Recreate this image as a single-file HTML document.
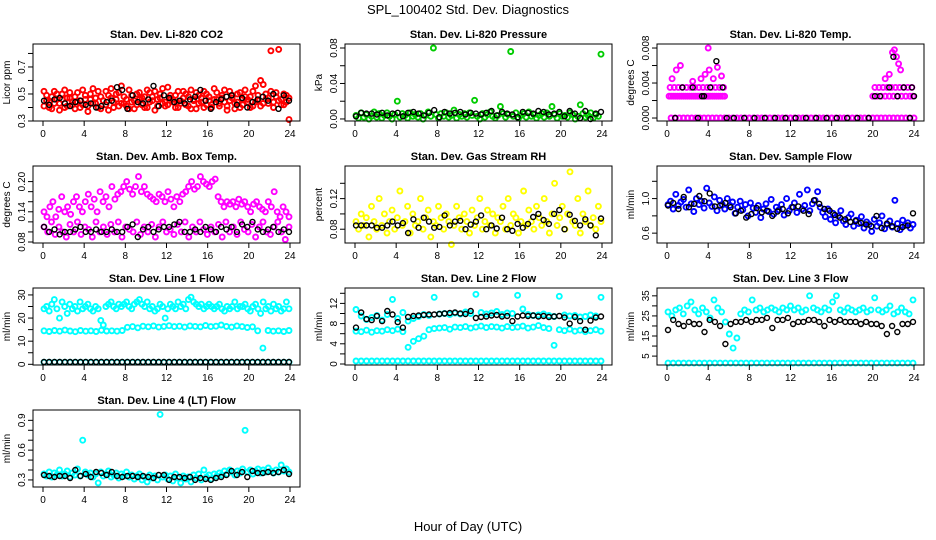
<!DOCTYPE html>
<html><head><meta charset="utf-8"><style>
body{margin:0;background:#fff;}
svg{display:block;font-family:"Liberation Sans",sans-serif;}
</style></head><body>
<svg id="chart" width="936" height="540" viewBox="0 0 936 540" xmlns="http://www.w3.org/2000/svg">
<text x="468" y="14" font-size="13" text-anchor="middle">SPL_100402  Std. Dev. Diagnostics</text>
<text x="468" y="531" font-size="13" text-anchor="middle">Hour of Day (UTC)</text>
</svg>
<script>
const xTicks=[0,4,8,12,16,20,24];
const co2Red=[0.52,0.45,0.40,0.48,0.43,0.50,0.38,0.46,0.53,0.41,0.47,0.44,0.39,0.51,0.45,0.42,0.49,0.37,0.46,0.54,0.43,0.40,0.48,0.45,0.52,0.38,0.47,0.44,0.50,0.41,0.56,0.43,0.46,0.39,0.49,0.45,0.42,0.51,0.47,0.40,0.53,0.44,0.48,0.38,0.46,0.50,0.43,0.41,0.55,0.47,0.44,0.49,0.40,0.45,0.52,0.42,0.48,0.39,0.46,0.51,0.43,0.47,0.40,0.50,0.45,0.42,0.54,0.46,0.41,0.49,0.44,0.38,0.52,0.47,0.43,0.50,0.40,0.46,0.53,0.44,0.48,0.41,0.56,0.45,0.60,0.43,0.50,0.47,0.82,0.44,0.51,0.83,0.46,0.42,0.49,0.31];
const co2Red2=[0.41,0.49,0.44,0.39,0.52,0.46,0.43,0.50,0.40,0.47,0.51,0.42,0.48,0.44,0.40,0.53,0.46,0.41,0.50,0.43,0.47,0.52,0.39,0.45,0.42,0.49,0.54,0.40,0.46,0.51,0.43,0.48,0.41,0.53,0.44,0.39,0.50,0.46,0.42,0.48,0.40,0.51,0.45,0.52,0.41,0.47,0.54,0.44,0.42,0.49,0.46,0.40,0.52,0.43,0.47,0.50,0.41,0.53,0.45,0.39,0.49,0.44,0.52,0.42,0.48,0.40,0.46,0.51,0.43,0.47,0.53,0.41,0.45,0.49,0.39,0.44,0.51,0.42,0.48,0.46,0.40,0.52,0.44,0.49,0.41,0.57,0.46,0.43,0.52,0.40,0.48,0.45,0.42,0.50,0.44,0.47];
const co2Black=[0.45,0.42,0.46,0.47,0.43,0.41,0.44,0.45,0.42,0.43,0.40,0.41,0.44,0.45,0.55,0.53,0.39,0.49,0.44,0.43,0.46,0.56,0.41,0.49,0.47,0.44,0.45,0.43,0.46,0.48,0.53,0.45,0.39,0.44,0.46,0.48,0.49,0.42,0.47,0.40,0.44,0.46,0.48,0.45,0.50,0.39,0.49,0.45];
const presGreen=[0.004,0.001,0.007,0.002,0.005,0.000,0.003,0.008,0.002,0.006,0.001,0.004,0.007,0.003,0.000,0.005,0.020,0.002,0.006,0.004,0.001,0.007,0.003,0.005,0.002,0.006,0.000,0.004,0.008,0.003,0.080,0.005,0.001,0.006,0.003,0.007,0.002,0.004,0.010,0.001,0.005,0.003,0.006,0.002,0.007,0.004,0.021,0.003,0.000,0.006,0.002,0.005,0.008,0.003,0.001,0.004,0.014,0.006,0.002,0.005,0.076,0.003,0.007,0.001,0.004,0.006,0.002,0.008,0.003,0.005,0.001,0.004,0.006,0.002,0.007,0.003,0.014,0.005,0.001,0.006,0.003,0.004,0.002,0.007,0.005,0.000,0.003,0.016,0.006,0.002,0.004,0.007,0.001,0.005,0.003,0.073];
const presBlack=[0.003,0.007,0.006,0.006,0.005,0.007,0.004,0.006,0.007,0.003,0.007,0.008,0.006,0.004,0.007,0.010,0.002,0.008,0.006,0.007,0.008,0.005,0.007,0.006,0.005,0.007,0.009,0.004,0.008,0.006,0.005,0.002,0.008,0.007,0.006,0.009,0.008,0.005,0.006,0.008,0.003,0.009,0.006,0.001,0.009,0.000,0.006,0.008];
const tempZeroX=[0.4,0.8,1.2,1.6,2.0,2.4,2.8,3.2,3.6,4.0,4.4,4.8,5.2,5.6,6.0,6.4,6.8,7.2,7.6,8.0,8.4,8.8,9.2,9.6,10.0,10.4,10.8,11.2,11.6,12.0,12.4,12.8,13.2,13.6,14.0,14.4,14.8,15.2,15.6,16.0,16.4,16.8,17.2,17.6,18.0,18.4,18.8,19.2,19.6,20.0,20.4,20.8,21.2,21.6,22.0,22.4,22.8,23.2,23.6,24.0];
const tempZeroY=[0,0,0,0,0,0,0,0,0,0,0,0,0,0,0,0,0,0,0,0,0,0,0,0,0,0,0,0,0,0,0,0,0,0,0,0,0,0,0,0,0,0,0,0,0,0,0,0,0,0,0,0,0,0,0,0,0,0,0,0];
const tempMagX=[0.2,0.4,0.6,0.8,1.0,1.2,1.4,1.6,1.8,2.0,2.2,2.4,2.6,2.8,3.0,3.2,3.4,3.6,3.8,4.0,4.2,4.4,4.6,4.8,5.0,5.2,5.4,5.6,0.3,0.7,1.1,1.5,1.9,2.3,2.7,3.1,3.5,3.9,4.3,4.7,5.1,5.5,0.5,0.9,1.3,2.5,3.3,3.7,4.1,4.5,4.9,5.3,4.0,20.0,20.4,20.8,21.2,21.6,22.0,22.4,22.8,23.2,23.6,23.9,20.2,20.6,21.0,21.4,21.8,22.2,22.6,23.0,23.4,23.8,21.2,21.6,21.9,22.1,22.3,22.5,22.7];
const tempMagY=[0.0025,0.0025,0.0025,0.0025,0.0025,0.0025,0.0025,0.0025,0.0025,0.0025,0.0025,0.0025,0.0025,0.0025,0.0025,0.0025,0.0025,0.0025,0.0025,0.0025,0.0025,0.0025,0.0025,0.0025,0.0025,0.0025,0.0025,0.0025,0.0035,0.0035,0.0035,0.0035,0.0035,0.0035,0.0035,0.0035,0.0035,0.0035,0.0035,0.0035,0.0035,0.0035,0.0045,0.0055,0.006,0.0042,0.0045,0.005,0.0055,0.0045,0.0058,0.0048,0.008,0.0025,0.0025,0.0025,0.0025,0.0025,0.0025,0.0025,0.0025,0.0025,0.0025,0.0025,0.0035,0.0035,0.0035,0.0035,0.0035,0.0035,0.0035,0.0035,0.0035,0.0035,0.0045,0.005,0.0075,0.0078,0.007,0.0062,0.0055];
const tempBlackX=[0.8,1.5,2.5,3.0,3.4,3.6,4.2,4.8,5.4,5.8,6.5,7.5,8.5,9.5,10.5,11.5,12.5,13.5,14.5,15.5,16.5,17.5,18.5,19.6,20.2,20.7,21.6,22.4,22.0,23.0,23.8,24.0,23.6];
const tempBlackY=[0,0.0035,0.0035,0,0.0025,0.0025,0.0035,0.0065,0.0035,0,0,0,0,0,0,0,0,0,0,0,0,0,0,0,0.0025,0.0025,0.0035,0.0025,0.007,0.0035,0.0035,0.0025,0];
const ambMagLow=[0.11,0.10,0.12,0.095,0.11,0.10,0.09,0.115,0.10,0.12,0.095,0.11,0.105,0.09,0.12,0.10,0.11,0.095,0.115,0.10,0.12,0.09,0.11,0.105,0.10,0.12,0.095,0.11,0.10,0.115,0.09,0.11,0.12,0.10,0.105,0.095,0.115,0.10,0.12,0.09,0.11,0.10,0.12,0.105,0.095,0.11,0.10,0.115,0.09,0.12,0.10,0.11,0.095,0.12,0.105,0.10,0.115,0.09,0.11,0.12,0.10,0.095,0.11,0.12,0.10,0.085,0.11];
const ambMagHigh=[0.14,0.13,0.15,0.16,0.13,0.145,0.17,0.14,0.15,0.135,0.16,0.17,0.15,0.14,0.16,0.175,0.15,0.165,0.14,0.18,0.16,0.17,0.15,0.19,0.165,0.175,0.18,0.19,0.2,0.185,0.175,0.19,0.21,0.18,0.19,0.175,0.17,0.165,0.16,0.175,0.17,0.16,0.18,0.165,0.15,0.17,0.16,0.175,0.18,0.19,0.2,0.185,0.19,0.21,0.2,0.195,0.19,0.2,0.205,0.17,0.16,0.15,0.16,0.155,0.16,0.15,0.165,0.155,0.16,0.15,0.14,0.155,0.16,0.15,0.145,0.14,0.16,0.15,0.18,0.14,0.13,0.15,0.14,0.13];
const ambBlack=[0.11,0.10,0.105,0.095,0.10,0.10,0.105,0.11,0.10,0.10,0.105,0.10,0.10,0.105,0.10,0.10,0.11,0.115,0.09,0.105,0.11,0.10,0.105,0.11,0.11,0.115,0.12,0.10,0.10,0.105,0.10,0.11,0.105,0.10,0.11,0.105,0.11,0.10,0.115,0.11,0.12,0.105,0.10,0.105,0.11,0.10,0.105,0.10];
const rhYellow=[0.09,0.08,0.10,0.085,0.095,0.07,0.11,0.09,0.08,0.12,0.085,0.10,0.075,0.09,0.105,0.08,0.095,0.13,0.085,0.09,0.11,0.075,0.10,0.085,0.09,0.12,0.08,0.095,0.105,0.07,0.09,0.085,0.11,0.095,0.08,0.10,0.09,0.06,0.085,0.11,0.095,0.08,0.10,0.09,0.075,0.105,0.085,0.095,0.12,0.08,0.09,0.105,0.085,0.10,0.075,0.095,0.09,0.11,0.08,0.12,0.085,0.10,0.095,0.075,0.09,0.13,0.085,0.105,0.09,0.08,0.11,0.095,0.085,0.12,0.09,0.075,0.10,0.14,0.085,0.095,0.11,0.08,0.10,0.155,0.09,0.085,0.12,0.075,0.10,0.09,0.13,0.085,0.095,0.08,0.11,0.09];
const rhBlack=[0.085,0.085,0.085,0.085,0.082,0.082,0.085,0.09,0.085,0.088,0.075,0.093,0.082,0.095,0.09,0.082,0.083,0.098,0.085,0.09,0.091,0.08,0.086,0.09,0.098,0.08,0.085,0.081,0.095,0.08,0.078,0.087,0.082,0.087,0.096,0.1,0.092,0.087,0.1,0.105,0.08,0.099,0.091,0.085,0.093,0.085,0.072,0.094];
const flowBlue=[0.93,0.97,0.88,1.05,0.92,0.96,0.99,0.90,1.10,0.94,0.85,1.00,0.93,0.97,0.89,1.12,0.95,0.91,1.02,0.86,0.98,0.93,0.88,1.00,0.92,0.96,0.83,0.90,0.97,0.87,0.93,0.80,0.95,0.89,0.84,0.92,0.78,0.88,0.94,0.85,0.99,0.82,0.90,0.87,0.93,0.81,1.00,0.86,0.90,0.95,0.84,1.05,0.88,0.92,1.10,0.86,0.94,0.98,1.08,0.90,0.84,0.79,0.88,0.76,0.83,0.72,0.80,0.86,0.74,0.70,0.78,0.82,0.68,0.75,0.71,0.79,0.66,0.73,0.70,0.62,0.76,0.68,0.72,0.80,0.65,0.70,0.74,0.67,0.98,0.71,0.64,0.75,0.69,0.72,0.66,0.70];
const flowBlack=[0.92,0.95,0.88,1.02,0.90,0.94,1.03,0.97,1.06,0.91,0.92,0.95,0.90,0.83,0.86,0.78,0.82,0.89,0.84,0.86,0.80,0.85,0.88,0.83,0.90,0.91,0.86,0.82,0.98,0.94,0.88,0.86,0.81,0.78,0.76,0.73,0.74,0.72,0.70,0.68,0.80,0.66,0.71,0.68,0.65,0.67,0.69,0.83];
const l1High=[24,25,23,26,28,24,20,27,25,22,26,24,25,23,27,24,25,26,24,23,25,24,19,17,25,26,27,25,24,26,25,26,27,25,24,26,27,28,26,25,27,24,25,23,24,26,25,20,24,26,25,24,27,25,26,24,28,29,27,26,25,26,24,25,26,25,24,25,26,24,23,25,24,25,27,24,25,25,26,24,23,25,26,24,22,27,24,25,23,26,24,25,23,24,27,24];
const l1Mid=[14.5,14.2,14.6,14.3,14.8,14.4,14.1,14.6,14.3,14.5,14.2,14.7,14.4,14.5,14.3,14.6,16.0,16.3,15.8,16.5,16.2,16.6,16.1,16.4,16.7,16.3,16.5,16.1,16.6,16.4,16.2,16.8,16.3,16.5,17.0,16.4,16.1,16.6,16.3,15.9,16.2,14.5,7,14.6,14.3,14.5,14.2,14.6];
const l1Low=[0.9,0.9,0.9,0.9,0.9,0.9,0.9,0.9,0.9,0.9,0.9,0.9,0.9,0.9,0.9,0.9,0.9,0.9,0.9,0.9,0.9,0.9,0.9,0.9,0.9,0.9,0.9,0.9,0.9,0.9,0.9,0.9,0.9,0.9,0.9,0.9,0.9,0.9,0.9,0.9,0.9,0.9,0.9,0.9,0.9,0.9,0.9,0.9];
const l1Black=[1,1,1,1,1,1,1,1,1,1,1,1,1,1,1,1,1,1,1,1,1,1,1,1,1,1,1,1,1,1,1,1,1,1,1,1,1,1,1,1,1,1,1,1,1,1,1,1];
const l2High=[10.8,9.5,8.8,9.2,9.6,8.7,9.8,12.8,9.0,10.2,8.5,9.0,9.4,9.8,9.6,13.2,9.9,10.0,9.8,10.1,9.9,10.3,10.0,13.8,10.2,9.9,10.1,10.4,9.8,10.1,10.0,13.6,10.9,9.8,9.6,9.7,9.9,9.6,9.4,13.4,9.7,9.5,9.6,9.3,9.4,9.7,9.5,13.2];
const l2Mid=[6.5,6.4,6.7,6.3,6.6,6.5,6.8,6.6,6.9,6.4,3.3,4.5,5.0,5.5,6.8,7.0,7.1,7.2,6.9,7.3,7.2,7.4,7.1,7.3,7.5,7.2,7.4,7.3,7.1,7.4,7.2,7.3,7.5,7.1,7.3,7.6,7.2,7.0,3.7,6.8,6.6,6.9,6.5,6.7,6.4,6.6,6.8,6.5];
const l2Low=[0.6,0.6,0.6,0.6,0.6,0.6,0.6,0.6,0.6,0.6,0.6,0.6,0.6,0.6,0.6,0.6,0.6,0.6,0.6,0.6,0.6,0.6,0.6,0.6,0.6,0.6,0.6,0.6,0.6,0.6,0.6,0.6,0.6,0.6,0.6,0.6,0.6,0.6,0.6,0.6,0.6,0.6,0.6,0.6,0.6,0.6,0.6,0.6];
const l2Black=[7.2,10.2,8.9,8.7,9.5,8.5,10.5,9.8,8.3,7.2,9.3,9.5,9.6,9.7,9.8,9.8,9.9,10.0,10.1,10.2,10.0,9.9,10.5,9.1,9.3,9.4,9.6,9.7,9.4,9.5,8.5,9.4,9.6,9.5,9.6,9.4,9.5,9.3,9.4,9.5,9.2,8.0,9.3,8.5,6.8,8.6,9.2,9.4];
const l3High=[27,25,28,29,26,30,32,28,26,29,27,24,33,29,27,22,16,9,14,26,28,27,33,28,29,27,28,29,28,27,29,28,30,28,29,27,28,35,29,28,27,29,28,32,35,28,27,29,28,27,28,29,27,28,34,28,27,28,30,26,27,29,27,26,33];
const l3Low=[1.5,1.5,1.5,1.5,1.5,1.5,1.5,1.5,1.5,1.5,1.5,1.5,1.5,1.5,1.5,1.5,1.5,1.5,1.5,1.5,1.5,1.5,1.5,1.5,1.5,1.5,1.5,1.5,1.5,1.5,1.5,1.5,1.5,1.5,1.5,1.5,1.5,1.5,1.5,1.5,1.5,1.5,1.5,1.5,1.5,1.5,1.5,1.5];
const l3Black=[18,23,21,20,22,21,21,17,23,22,20,11,21,22,22,23,22,23,23,24,19,23,23,24,21,22,22,23,23,22,20,23,22,23,22,22,22,21,22,21,21,20,16,20,17,21,21,22];
const l4Cyan=[0.36,0.34,0.38,0.33,0.37,0.35,0.40,0.34,0.36,0.39,0.33,0.37,0.35,0.41,0.34,0.70,0.38,0.35,0.37,0.33,0.36,0.27,0.38,0.34,0.36,0.39,0.33,0.35,0.37,0.32,0.36,0.34,0.38,0.33,0.35,0.31,0.34,0.36,0.30,0.33,0.28,0.35,0.32,0.34,0.30,0.96,0.33,0.35,0.31,0.34,0.29,0.36,0.32,0.27,0.34,0.31,0.33,0.28,0.35,0.32,0.36,0.30,0.40,0.33,0.35,0.31,0.36,0.34,0.37,0.35,0.39,0.36,0.40,0.38,0.35,0.39,0.37,0.41,0.80,0.38,0.40,0.36,0.39,0.41,0.37,0.40,0.38,0.42,0.39,0.37,0.40,0.38,0.45,0.39,0.41,0.38];
const l4Black=[0.35,0.34,0.33,0.34,0.34,0.32,0.40,0.34,0.36,0.33,0.38,0.37,0.35,0.38,0.34,0.33,0.34,0.34,0.33,0.34,0.33,0.32,0.35,0.35,0.30,0.33,0.33,0.32,0.33,0.30,0.32,0.31,0.30,0.32,0.33,0.35,0.39,0.35,0.38,0.33,0.39,0.37,0.37,0.38,0.37,0.38,0.40,0.36];

const NS="http://www.w3.org/2000/svg";
const svg=document.getElementById('chart');
function mk(tag,attrs,parent){const e=document.createElementNS(NS,tag);for(const k in attrs)e.setAttribute(k,attrs[k]);(parent||svg).appendChild(e);return e;}
function evenX(n){const a=[];for(let i=0;i<n;i++)a.push(0.1+23.8*i/(n-1));return a;}

const panels=[
 {title:"Stan. Dev. Li-820 CO2",ylab:"Licor ppm",ymin:0.3,ymax:0.87,ticks:[0.3,0.4,0.5,0.6,0.7,0.8],labels:["0.3","","0.5","","0.7",""],series:[[null,co2Red2,"#ff0000"],[null,co2Red,"#ff0000"],[null,co2Black,"#000"]]},
 {title:"Stan. Dev. Li-820 Pressure",ylab:"kPa",ymin:-0.0023,ymax:0.0845,ticks:[0,0.02,0.04,0.06,0.08],labels:["0.00","","0.04","","0.08"],series:[[null,presGreen,"#00cc00"],[null,presBlack,"#000"]]},
 {title:"Stan. Dev. Li-820 Temp.",ylab:"degrees C",ymin:-0.00034,ymax:0.00846,ticks:[0,0.002,0.004,0.006,0.008],labels:["0.000","","0.004","","0.008"],series:[[tempZeroX,tempZeroY,"#ff00ff"],[tempMagX,tempMagY,"#ff00ff"],[tempBlackX,tempBlackY,"#000"]]},
 {title:"Stan. Dev. Amb. Box Temp.",ylab:"degrees C",ymin:0.078,ymax:0.231,ticks:[0.08,0.10,0.12,0.14,0.16,0.18,0.20],labels:["0.08","","","0.14","","","0.20"],series:[[null,ambMagLow,"#ff00ff"],[null,ambMagHigh,"#ff00ff"],[null,ambBlack,"#000"]]},
 {title:"Stan. Dev. Gas Stream RH",ylab:"percent",ymin:0.062,ymax:0.1626,ticks:[0.08,0.10,0.12,0.14],labels:["0.08","","0.12",""],series:[[null,rhYellow,"#ffff00"],[null,rhBlack,"#000"]]},
 {title:"Stan. Dev. Sample Flow",ylab:"ml/min",ymin:0.486,ymax:1.377,ticks:[0.6,0.8,1.0,1.2],labels:["0.6","","1.0",""],series:[[null,flowBlue,"#0000ff"],[null,flowBlack,"#000"]]},
 {title:"Stan. Dev. Line 1 Flow",ylab:"ml/min",ymin:-0.3,ymax:33,ticks:[0,5,10,15,20,25,30],labels:["0","","10","","20","","30"],series:[[null,l1High,"#00ffff"],[null,l1Mid,"#00ffff"],[null,l1Low,"#00ffff"],[null,l1Black,"#000"]]},
 {title:"Stan. Dev. Line 2 Flow",ylab:"ml/min",ymin:-0.2,ymax:15.05,ticks:[0,2,4,6,8,10,12,14],labels:["0","","4","","8","","12",""],series:[[null,l2High,"#00ffff"],[null,l2Mid,"#00ffff"],[null,l2Low,"#00ffff"],[null,l2Black,"#000"]]},
 {title:"Stan. Dev. Line 3 Flow",ylab:"ml/min",ymin:0.57,ymax:38.9,ticks:[5,10,15,20,25,30,35],labels:["5","","15","","25","","35"],series:[[null,l3High,"#00ffff"],[null,l3Low,"#00ffff"],[null,l3Black,"#000"]]},
 {title:"Stan. Dev. Line 4 (LT) Flow",ylab:"ml/min",ymin:0.229,ymax:1.004,ticks:[0.3,0.4,0.5,0.6,0.7,0.8,0.9],labels:["0.3","","","0.6","","","0.9"],series:[[null,l4Cyan,"#00ffff"],[null,l4Black,"#000"]]}
];

panels.forEach((p,i)=>{
 const col=i%3,row=Math.floor(i/3);
 const L=33+col*312,R=300+col*312,T=44+row*122,B=121+row*122;
 const xs=v=>L+10+(v/24)*247;
 const ys=v=>B-(v-p.ymin)/(p.ymax-p.ymin)*(B-T);
 const g=mk('g',{});
 
 
 const t=mk('text',{x:(L+R)/2,y:T-6,'font-size':11,'font-weight':'bold','text-anchor':'middle'},g);
 t.textContent=p.title;
 
 
 p.series.forEach((s,si)=>{
  const ys_=s[1];const xv=s[0]||evenX(ys_.length);
  const sw=(s[2]==="#000")?1.4:1.9;
  const sg=mk('g',{fill:'none',stroke:s[2],'stroke-width':sw},g);
  
  
  ys_.forEach((v,k)=>{
   const c=mk('circle',{cx:xs(xv[k]).toFixed(1),cy:ys(v).toFixed(1),r:2.5},sg);
   
   
  });
 });
 const box=mk('rect',{x:L,y:T,width:R-L,height:B-T,fill:'none',stroke:'#000','stroke-width':1},g);
 
 
 const xa=mk('g',{stroke:'#000','font-size':10},g);
 
 
 mk('line',{x1:xs(0),x2:xs(24),y1:B,y2:B},xa);
 xTicks.forEach(v=>{
  mk('line',{x1:xs(v),x2:xs(v),y1:B,y2:B+5},xa);
  const tl=mk('text',{x:xs(v),y:B+16,'text-anchor':'middle',stroke:'none',fill:'#000'},xa);
  tl.textContent=v;
  
  
 });
 const ya=mk('g',{stroke:'#000','font-size':10},g);
 
 
 const tk=p.ticks;
 mk('line',{x1:L,x2:L,y1:ys(tk[0]),y2:ys(tk[tk.length-1])},ya);
 tk.forEach((v,k)=>{
  const y=ys(v);
  mk('line',{x1:L-5,x2:L,y1:y,y2:y},ya);
  if(p.labels[k]){
   const tl=mk('text',{x:L-8,y:y,'text-anchor':'middle',stroke:'none',fill:'#000',transform:`rotate(-90 ${L-8} ${y})`},ya);
   tl.textContent=p.labels[k];
   
   
  }
 });
 const yl=mk('text',{x:L-23,y:(T+B)/2,'font-size':10,'text-anchor':'middle',transform:`rotate(-90 ${L-23} ${(T+B)/2})`},g);
 yl.textContent=p.ylab;
 
 
});
</script>
</body></html>
